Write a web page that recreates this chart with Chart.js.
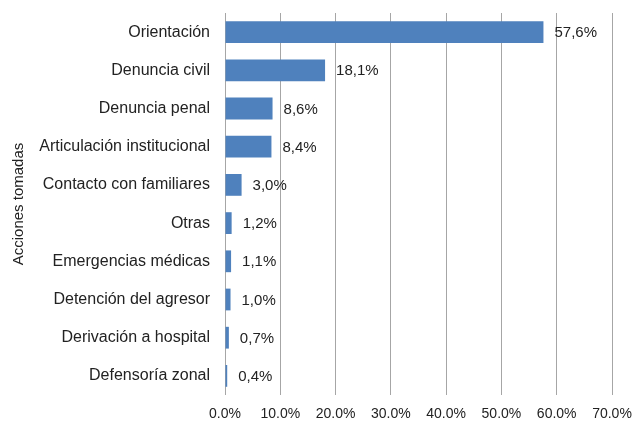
<!DOCTYPE html>
<html>
<head>
<meta charset="utf-8">
<script src="https://cdn.jsdelivr.net/npm/chart.js@4"></script>
<style>
    html, body { margin: 0; padding: 0; background: #fff; }
    #wrap { width: 635px; height: 421px; }
</style>
</head>
<body>
<div id="wrap"><canvas id="accionesChart" width="635" height="421"></canvas></div>
<script>
const categorias = [
    'Orientación',
    'Denuncia civil',
    'Denuncia penal',
    'Articulación institucional',
    'Contacto con familiares',
    'Otras',
    'Emergencias médicas',
    'Detención del agresor',
    'Derivación a hospital',
    'Defensoría zonal'
];
const porcentajes = [57.6, 18.1, 8.6, 8.4, 3.0, 1.2, 1.1, 1.0, 0.7, 0.4];
const ejeMax = 70;
const ejePaso = 10;

const FUENTE = '"Liberation Sans", Arial, Helvetica, sans-serif';
const TEXTO = '#222';

// Etiquetas con el valor al final de cada barra (formato con coma decimal)
const etiquetasValor = {
    id: 'etiquetasValor',
    afterDatasetsDraw(chart) {
        const ctx = chart.ctx;
        const meta = chart.getDatasetMeta(0);
        ctx.save();
        ctx.font = '15px ' + FUENTE;
        ctx.fillStyle = TEXTO;
        ctx.textAlign = 'left';
        ctx.textBaseline = 'middle';
        meta.data.forEach((bar, i) => {
            const txt = porcentajes[i].toFixed(1).replace('.', ',') + '%';
            ctx.fillText(txt, bar.x + 11, bar.y + 1);
        });
        ctx.restore();
    }
};

function renderChart() {
    const ctx = document.getElementById('accionesChart').getContext('2d');
    new Chart(ctx, {
        type: 'bar',
        data: {
            labels: categorias,
            datasets: [{
                data: porcentajes,
                backgroundColor: '#4f81bd',
                borderWidth: 0,
                categoryPercentage: 1,
                barPercentage: 0.57
            }]
        },
        options: {
            indexAxis: 'y',
            responsive: false,
            animation: false,
            layout: { padding: { top: 13, right: 23, left: 0, bottom: 0 } },
            plugins: {
                legend: { display: false },
                tooltip: { enabled: false }
            },
            scales: {
                x: {
                    min: 0,
                    max: ejeMax,
                    ticks: {
                        stepSize: ejePaso,
                        padding: 11,
                        color: TEXTO,
                        font: { family: FUENTE, size: 14 },
                        callback: v => v.toFixed(1) + '%'
                    },
                    grid: { color: '#a6a6a6', lineWidth: 1, drawTicks: false },
                    border: { display: false },
                    afterFit: s => {
                        s.height = 26;
                        s.paddingLeft = 0;
                        s.paddingRight = 0;
                    }
                },
                y: {
                    ticks: {
                        padding: 15,
                        color: TEXTO,
                        font: { family: FUENTE, size: 16 }
                    },
                    grid: { display: false, drawTicks: false },
                    border: { display: false },
                    title: {
                        display: true,
                        text: 'Acciones tomadas',
                        color: TEXTO,
                        font: { family: FUENTE, size: 15 },
                        padding: { top: 10, bottom: 0 }
                    },
                    afterFit: s => {
                        s.width = 225;
                        s.paddingTop = 0;
                        s.paddingBottom = 0;
                    }
                }
            }
        },
        plugins: [etiquetasValor]
    });
}

renderChart();
</script>
</body>
</html>
